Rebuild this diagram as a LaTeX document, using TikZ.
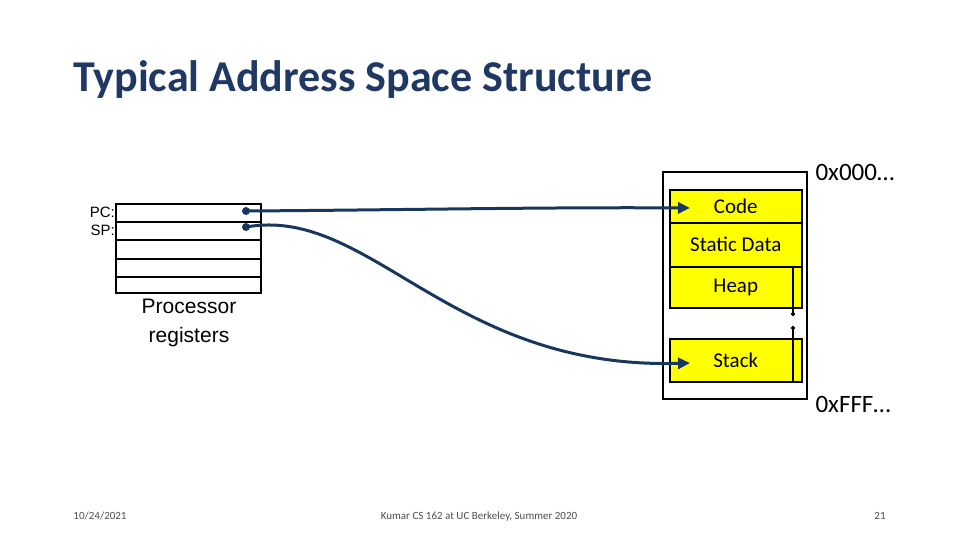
\documentclass[tikz,border=0pt]{standalone}
\usepackage{fontspec}
\setmainfont{Carlito}
\newfontfamily\arial{Liberation Sans}
\usetikzlibrary{arrows.meta}
\definecolor{navy}{HTML}{17375E}
\definecolor{ttl}{HTML}{1F3864}
\definecolor{memy}{HTML}{FFFF00}
\tikzset{
  seg/.style={draw=black, fill=memy, line width=1.5pt, minimum width=132pt, inner sep=0pt, anchor=north west, font=\fontsize{21}{24}\selectfont},
  conn/.style={draw=navy, line width=3pt, -{Triangle[length=12pt,width=11pt]}},
  dotst/.style={circle, fill=navy, inner sep=0pt, minimum size=8pt},
  foot/.style={font=\fontsize{11}{13}\selectfont, text=black!70, anchor=base},
}
\begin{document}
\begin{tikzpicture}[x=1pt,y=-1pt]
\useasboundingbox (0,0) rectangle (960,540);
\node[anchor=west, text=ttl, font=\fontsize{44}{48}\selectfont\bfseries, inner sep=0pt] (title) at (73,80) {Typical Address Space Structure};
% registers
\draw[line width=1.5pt] (116,204) rectangle (261,293);
\foreach \y in {222,240,259,277} \draw[line width=1.5pt] (116,\y) -- (261,\y);
\node[anchor=east, font=\arial\fontsize{15}{16}\selectfont, inner sep=1pt] (pc) at (116,212) {PC:};
\node[anchor=east, font=\arial\fontsize{15}{16}\selectfont, inner sep=1pt] (sp) at (116,230) {SP:};
\node[align=center, font=\arial\fontsize{21}{29}\selectfont] (proc) at (189,323) {Processor\\registers};
\node[dotst] (pcd) at (246,211) {};
\node[dotst] (spd) at (246,227) {};
% memory
\draw[line width=1.5pt] (663,172) rectangle (807,399);
\node[seg, minimum height=33pt] (code) at (669,189) {Code};
\node[seg, minimum height=44pt] (static) at (669,222) {Static Data};
\node[seg, minimum height=41pt] (heap) at (669,266) {Heap};
\node[seg, minimum height=43pt] (stack) at (669,338) {Stack};
\coordinate (hend) at (793,316);
\coordinate (send) at (793,326);
\draw[line width=1.5pt, -{Circle[length=4pt]}] (793,266) -- (hend);
\draw[line width=1.5pt, -{Circle[length=4pt]}] (793,381) -- (send);
\node[anchor=west, font=\fontsize{25}{28}\selectfont] (lo) at (812,172) {0x000…};
\node[anchor=west, font=\fontsize{25}{28}\selectfont] (hi) at (812,404) {0xFFF…};
% connectors
\coordinate (ct) at (690,208);
\coordinate (st) at (690,363);
\draw[conn] (pcd.center) .. controls (400,210) and (550,207) .. (ct);
\draw[conn] (spd.center) .. controls (370,205) and (450,370) .. (st);
% footer
\node[foot] (date) at (100,519) {10/24/2021};
\node[foot] (course) at (479,519) {Kumar CS 162 at UC Berkeley, Summer 2020};
\node[foot] (page) at (880,519) {21};
\end{tikzpicture}
\end{document}
